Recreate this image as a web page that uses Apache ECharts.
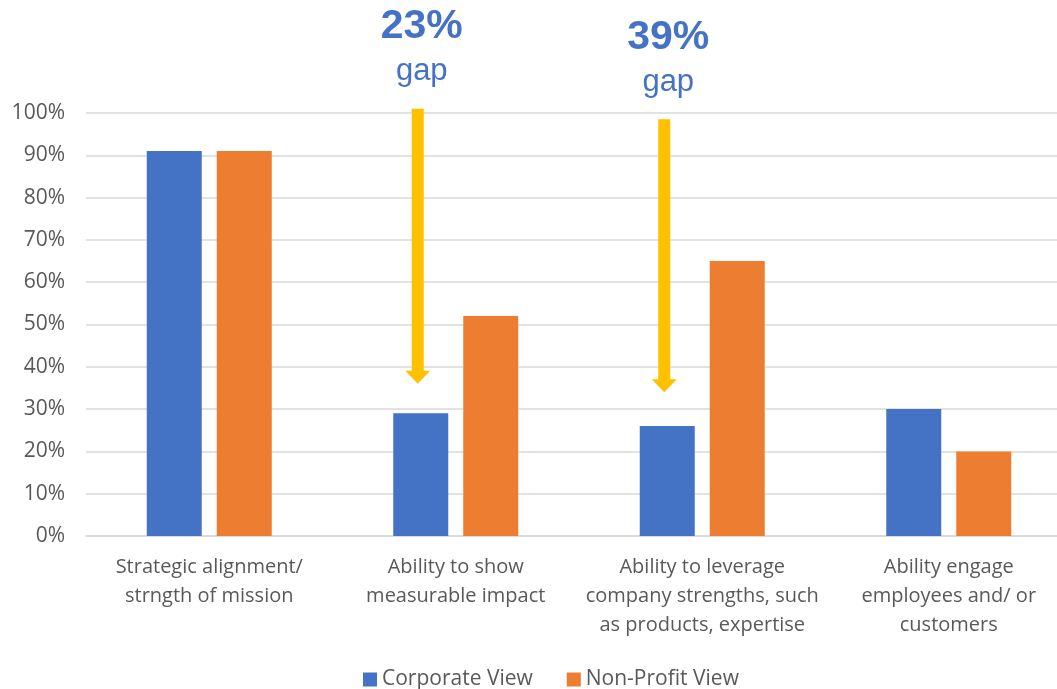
<!DOCTYPE html>
<html>
<head>
<meta charset="utf-8">
<script src="https://cdn.jsdelivr.net/npm/echarts@6/dist/echarts.min.js"></script>
<style>
  html, body { margin: 0; padding: 0; background: #fff; }
  #chart { width: 1057px; height: 689px; }
</style>
</head>
<body>
<div id="chart"></div>
<script>
// categories and values (percent)
var categories = [
  'Strategic alignment/\nstrngth of mission',
  'Ability to show\nmeasurable impact',
  'Ability to leverage\ncompany strengths, such\nas products, expertise',
  'Ability engage\nemployees and/ or\ncustomers'
];
var corporateView = [91, 29, 26, 30];
var nonProfitView = [91, 52, 65, 20];

// gap arrows: category index, arrow top, arrow tip, label
var gapCategory = [1, 2];
var gapTop = [101, 98.5];
var gapTip = [36, 34];
var gapText = ['23%', '39%'];

var BLUE = '#4472C4', ORANGE = '#ED7D31', GOLD = '#FFC000';
var BAR_W = 55, BAR_GAP = 15;

var chart = echarts.init(document.getElementById('chart'));

var arrowData = gapCategory.map(function (c, i) {
  return [c, gapTop[i], gapTip[i], gapText[i]];
});

var option = {
  animation: false,
  textStyle: { fontFamily: 'Open Sans' },
  grid: { left: 86, top: 113, right: -15, height: 423, outerBoundsMode: 'none' },
  legend: {
    top: 664,
    left: 358,
    itemWidth: 14,
    itemHeight: 14,
    itemGap: 34,
    icon: 'rect',
    textStyle: { fontSize: 21, color: '#595959', fontFamily: 'Open Sans' },
    data: ['Corporate View', 'Non-Profit View']
  },
  xAxis: {
    type: 'category',
    data: categories,
    axisTick: { show: false },
    axisLine: { lineStyle: { color: '#D9D9D9', width: 1.5 } },
    axisLabel: { color: '#595959', fontSize: 20, lineHeight: 29, margin: 17, interval: 0, fontFamily: 'Open Sans' }
  },
  yAxis: {
    type: 'value',
    min: 0,
    max: 100,
    interval: 10,
    axisLabel: { formatter: '{value}%', color: '#595959', fontSize: 21, margin: 21, fontFamily: 'Open Sans' },
    splitLine: { lineStyle: { color: '#D9D9D9', width: 1.5 } },
    axisLine: { show: false },
    axisTick: { show: false }
  },
  series: [
    {
      name: 'Corporate View',
      type: 'bar',
      data: corporateView,
      barWidth: BAR_W,
      barGap: (BAR_GAP / BAR_W * 100) + '%',
      itemStyle: { color: BLUE }
    },
    {
      name: 'Non-Profit View',
      type: 'bar',
      data: nonProfitView,
      barWidth: BAR_W,
      itemStyle: { color: ORANGE }
    },
    {
      type: 'custom',
      silent: true,
      clip: false,
      z: 10,
      data: arrowData,
      encode: { x: 0, y: [1, 2] },
      renderItem: function (params, api) {
        var top = api.coord([api.value(0), api.value(1)]);
        var tip = api.coord([api.value(0), api.value(2)]);
        // arrows sit just left of the Corporate bar centre
        var x = top[0] - (BAR_W + BAR_GAP) / 2 - 3;
        var headH = 13, headW = 12.5, shaftW = 6;
        var label = arrowData[params.dataIndex][3];
        return {
          type: 'group',
          children: [
            {
              type: 'polygon',
              shape: {
                points: [
                  [x - shaftW, top[1]], [x + shaftW, top[1]],
                  [x + shaftW, tip[1] - headH], [x + headW, tip[1] - headH],
                  [x, tip[1]],
                  [x - headW, tip[1] - headH], [x - shaftW, tip[1] - headH]
                ]
              },
              style: { fill: GOLD }
            },
            {
              type: 'text',
              style: {
                text: label, x: x + 4, y: top[1] - 82,
                align: 'center', verticalAlign: 'middle',
                fill: BLUE, font: 'bold 41px "Liberation Sans"'
              }
            },
            {
              type: 'text',
              style: {
                text: 'gap', x: x + 4, y: top[1] - 37,
                align: 'center', verticalAlign: 'middle',
                fill: BLUE, font: '31px "Liberation Sans"'
              }
            }
          ]
        };
      }
    }
  ]
};

chart.setOption(option);
</script>
</body>
</html>
